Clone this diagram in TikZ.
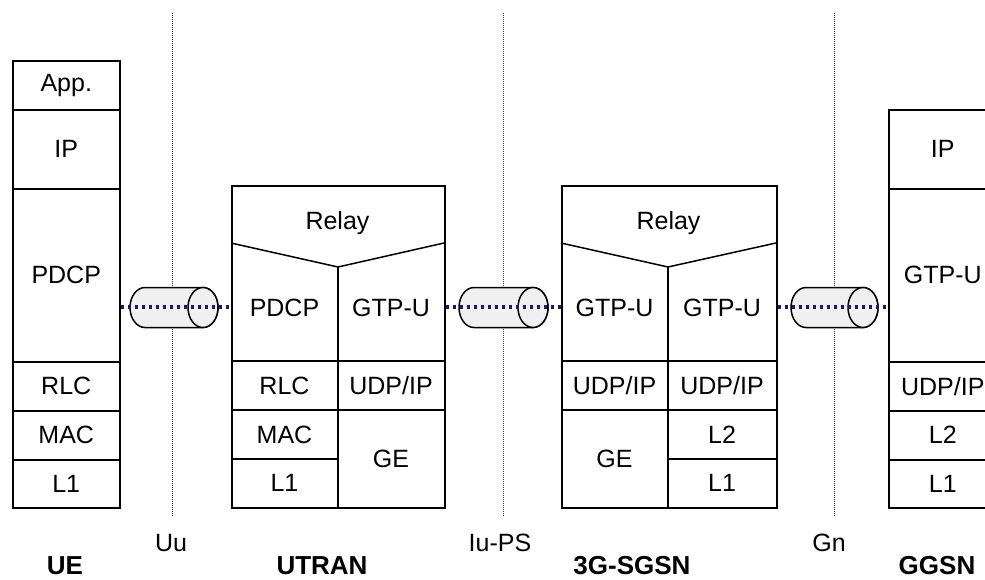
\documentclass[tikz,border=0pt]{standalone}
\usepackage{fontspec}
\setmainfont{Liberation Sans}
\definecolor{navy}{HTML}{1C1870}
\definecolor{tubefill}{HTML}{F0F0F0}
\tikzset{
  box/.style={draw=black, line width=1.5pt},
  cell/.style={box, inner sep=0pt, anchor=north west, font=\fontsize{25}{29}\selectfont},
  txt/.style={inner sep=0pt, font=\fontsize{25}{29}\selectfont},
  lbl/.style={inner sep=0pt, font=\fontsize{25}{29}\selectfont},
  bold/.style={inner sep=0pt, font=\fontsize{26}{30}\selectfont\bfseries},
  tube/.style={draw=black, line width=1.5pt, fill=tubefill},
  bearer/.style={draw=navy, line width=3.5pt, dash pattern=on 3.5pt off 3.5pt},
  iface/.style={draw=black!80, line width=0.9pt, dash pattern=on 1pt off 1pt},
}
\newcommand\cellbox[6]{\node[cell, minimum width={#4-#2}, minimum height={#5-#3}] (#1) at (#2,#3) {#6};}
\newcommand\tunnel[3]{%
  \draw[tube] (#1,287.5) arc[start angle=-90, end angle=-270, x radius=15, y radius=20]
     -- (#2,327.5) arc[start angle=90, end angle=-90, x radius=15, y radius=20] -- cycle;
  \draw[tube] (#2,307.5) ellipse [x radius=15, y radius=20];
  \coordinate (#3) at ({(#1+#2)/2},307);}
\begin{document}
\begin{tikzpicture}[x=1pt,y=-1pt]
\useasboundingbox (0,0) rectangle (985,579);
\clip (0,0) rectangle (985,579);

% interface lines
\coordinate (uuT) at (172,13);  \coordinate (uuB) at (172,517);
\coordinate (iuT) at (503,13);  \coordinate (iuB) at (503,517);
\coordinate (gnT) at (834,13);  \coordinate (gnB) at (834,517);
\draw[iface] (uuT) -- (uuB);
\draw[iface] (iuT) -- (iuB);
\draw[iface] (gnT) -- (gnB);

% UE
\cellbox{ueapp}{12}{60}{119}{109}{App.}
\cellbox{ueip}{12}{109}{119}{188}{IP}
\cellbox{uepdcp}{12}{188}{119}{361}{PDCP}
\cellbox{uerlc}{12}{361}{119}{410}{RLC}
\cellbox{uemac}{12}{410}{119}{459}{MAC}
\cellbox{uel1}{12}{459}{119}{507}{L1}

% UTRAN
\node[box, inner sep=0pt, anchor=north west, minimum width=213, minimum height=322] (utran) at (231,185) {};
\draw[box] (231,243) -- (338,267) -- (444,243);
\draw[box] (338,267) -- (338,507);
\draw[box] (231,361) -- (444,361);
\draw[box] (231,410) -- (444,410);
\draw[box] (231,459) -- (338,459);
\node[txt] (utranrelay) at (337.5,223) {Relay};
\node[txt] (utranpdcp) at (284.5,308) {PDCP};
\node[txt] (utrangtp) at (391,308) {GTP-U};
\node[txt] (utranrlc) at (284.5,385.5) {RLC};
\node[txt] (utranudp) at (391,385.5) {UDP/IP};
\node[txt] (utranmac) at (284.5,434.5) {MAC};
\node[txt] (utranl1) at (284.5,483) {L1};
\node[txt] (utrange) at (391,458.5) {GE};

% 3G-SGSN
\node[box, inner sep=0pt, anchor=north west, minimum width=215, minimum height=322] (sgsn) at (561,185) {};
\draw[box] (561,243) -- (668,267) -- (776,243);
\draw[box] (668,267) -- (668,507);
\draw[box] (561,361) -- (776,361);
\draw[box] (561,410) -- (776,410);
\draw[box] (668,459) -- (776,459);
\node[txt] (sgsnrelay) at (668.5,223) {Relay};
\node[txt] (sgsngtpa) at (614.5,308) {GTP-U};
\node[txt] (sgsngtpb) at (722,308) {GTP-U};
\node[txt] (sgsnudpa) at (614.5,385.5) {UDP/IP};
\node[txt] (sgsnudpb) at (722,385.5) {UDP/IP};
\node[txt] (sgsnge) at (614.5,458.5) {GE};
\node[txt] (sgsnl2) at (722,434.5) {L2};
\node[txt] (sgsnl1) at (722,483) {L1};

% GGSN
\cellbox{ggsnip}{888}{109}{996}{188}{IP}
\cellbox{ggsngtp}{888}{188}{996}{361}{GTP-U}
\cellbox{ggsnudp}{888}{361}{996}{410}{UDP/IP}
\cellbox{ggsnl2}{888}{410}{996}{459}{L2}
\cellbox{ggsnl1}{888}{459}{996}{507}{L1}

% tunnels
\tunnel{145}{203}{tunA}
\tunnel{474}{533}{tunB}
\tunnel{806}{863}{tunC}
\draw[bearer] (uepdcp.east |- tunA) -- (utran.west |- tunA);
\draw[bearer] (utran.east |- tunB) -- (sgsn.west |- tunB);
\draw[bearer] (sgsn.east |- tunC) -- (ggsngtp.west |- tunC);

% labels
\node[lbl] (uu) at (171,543) {Uu};
\node[lbl] (iups) at (500,543) {Iu-PS};
\node[lbl] (gn) at (829,543) {Gn};
\node[bold] (ue) at (65,566) {UE};
\node[bold] (utranlbl) at (322,566) {UTRAN};
\node[bold] (sgsnlbl) at (632,566) {3G-SGSN};
\node[bold] (ggsnlbl) at (937,566) {GGSN};
\end{tikzpicture}
\end{document}
